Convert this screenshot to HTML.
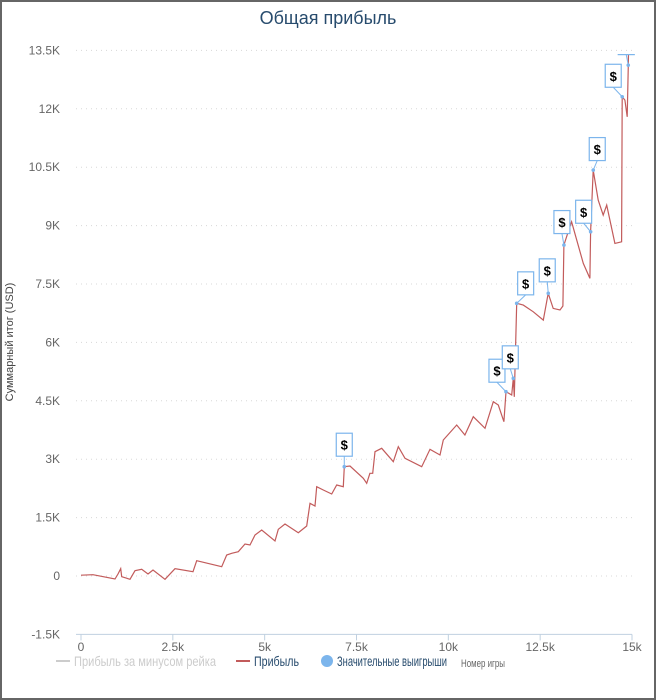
<!DOCTYPE html>
<html><head><meta charset="utf-8"><style>
html,body{margin:0;padding:0;background:#fff}
svg{display:block;font-family:"Liberation Sans","DejaVu Sans",sans-serif}
</style></head><body>
<svg id="chart" width="656" height="700" viewBox="0 0 656 700">
<rect x="1" y="1" width="654" height="698" fill="#fff" stroke="#666" stroke-width="2"/>
<text x="328" y="24" text-anchor="middle" font-size="18" fill="#274b6d">Общая прибыль</text>
<text transform="translate(13,342) rotate(-90)" text-anchor="middle" font-size="11" fill="#444">Суммарный итог (USD)</text>
<g id="grid"></g>
<g id="yticks"></g>
<g id="xticks"></g>
<defs><clipPath id="plotclip"><rect x="76" y="54" width="570" height="582"/></clipPath></defs>
<g clip-path="url(#plotclip)"><path id="line" fill="none" stroke="#c25b5b" stroke-width="1.2"/>
<g id="flags"></g></g>
<g>
<g><line x1="56" y1="661" x2="70" y2="661" stroke="#ccc" stroke-width="2"/><text x="74" y="666" font-size="14" fill="#ccc" textLength="142" lengthAdjust="spacingAndGlyphs">Прибыль за минусом рейка</text></g>
<g><line x1="236" y1="661" x2="250" y2="661" stroke="#c25b5b" stroke-width="2"/><text x="254" y="666" font-size="14" fill="#274b6d" textLength="45" lengthAdjust="spacingAndGlyphs">Прибыль</text></g>
<g><circle cx="327" cy="661" r="6" fill="#7cb5ec"/><text x="337" y="666" font-size="14" fill="#274b6d" textLength="110" lengthAdjust="spacingAndGlyphs">Значительные выигрыши</text></g>
</g>
<text x="461" y="667" font-size="11" fill="#666" textLength="44" lengthAdjust="spacingAndGlyphs">Номер игры</text>
</svg>
<script>
const games=[0,327,925,1007,1081,1108,1334,1470,1652,1824,1960,2286,2559,3049,3149,3830,3966,4102,4282,4464,4600,4736,4919,5281,5371,5553,5915,6144,6233,6370,6416,6595,6824,6960,7140,7167,7322,7684,7777,7866,7940,8003,8185,8501,8637,8819,9274,9500,9772,9862,10227,10452,10679,10997,11223,11359,11514,11569,11724,11768,11795,11860,12040,12312,12584,12720,12856,13039,13120,13147,13264,13357,13673,13855,13874,13945,14081,14217,14310,14535,14718,14734,14808,14870,14898,14917];
const profit=[20,33,-77,51,187,-18,-85,136,172,51,154,-85,187,110,393,239,539,583,624,822,796,1053,1181,899,1199,1335,1112,1284,1867,1798,2293,2208,2106,2337,2293,2807,2825,2509,2381,2637,2637,3192,3279,2935,3320,3023,2807,3254,3107,3492,3878,3621,4091,3793,4476,4391,3962,4733,4648,5077,4604,7003,6959,6787,6574,7260,6874,6831,6934,8500,8842,9098,8030,7645,8842,10426,9656,9270,9527,8544,8585,12309,12224,11795,13122,14200];
const winIdx=[35,57,59,61,65,69,74,75,81,84];
const yTicks=[-1500,0,1500,3000,4500,6000,7500,9000,10500,12000,13500];
const yTickLabels=["-1.5K","0","1.5K","3K","4.5K","6K","7.5K","9K","10.5K","12K","13.5K"];
const xTicks=[0,2500,5000,7500,10000,12500,15000];
const xTickLabels=["0","2.5k","5k","7.5k","10k","12.5k","15k"];
// flag label offsets (layout only)
const flagDx=[0,-9,-3,9,-1,-2,-7,4,-9,-2];
const flagDy=[-22,-21,-21,-20,-23,-23,-20,-21,-21,-22];
const X=g=>81+g/15000*551, Y=v=>576-v/15000*584;
const NS="http://www.w3.org/2000/svg";
function mk(t,a,p){const e=document.createElementNS(NS,t);for(const k in a)e.setAttribute(k,a[k]);p.appendChild(e);return e;}
const grid=document.getElementById('grid'),yt=document.getElementById('yticks'),xt=document.getElementById('xticks');
yTicks.forEach((v,i)=>{
 if(v>-1500){const l=mk('line',{x1:76,x2:632,y1:Y(v),y2:Y(v),stroke:'#d8d8d8','stroke-dasharray':'1,4'},grid);
 
 }
 const t=mk('text',{x:60,y:Y(v)+4,'text-anchor':'end','font-size':12,fill:'#666'},yt);t.textContent=yTickLabels[i];
 
 
});
const ax=mk('line',{x1:76,x2:632,y1:Y(-1500),y2:Y(-1500),stroke:'#c0d0e0','stroke-width':1},grid);


xTicks.forEach((g,i)=>{
 const tk=mk('line',{x1:X(g),x2:X(g),y1:Y(-1500),y2:Y(-1500)+6,stroke:'#c0d0e0'},xt);
 
 
 const t=mk('text',{x:X(g),y:651,'text-anchor':'middle','font-size':12,fill:'#666'},xt);t.textContent=xTickLabels[i];
 
 
});
document.getElementById('line').setAttribute('d',games.map((g,i)=>(i?'L':'M')+X(g).toFixed(1)+','+Y(profit[i]).toFixed(1)).join(''));
const fl=document.getElementById('flags');
winIdx.forEach((idx,k)=>{
 const px=X(games[idx]),py=Y(profit[idx]);
 const cx=px+flagDx[k],cy=py+flagDy[k];
 const g=mk('g',{},fl);
 
 
 mk('line',{x1:px,y1:py,x2:cx,y2:cy+11.5,stroke:'#7cb5ec','stroke-width':1},g);
 mk('circle',{cx:px,cy:py,r:1.8,fill:'#7cb5ec'},g);
 mk('rect',{x:cx-8,y:cy-11.5,width:16,height:23,fill:'#fff',stroke:'#7cb5ec','stroke-width':1.2},g);
 const t=mk('text',{x:cx,y:cy+5,'text-anchor':'middle','font-size':13,'font-weight':'bold',fill:'#000'},g);t.textContent='$';
});
</script>
</body></html>
